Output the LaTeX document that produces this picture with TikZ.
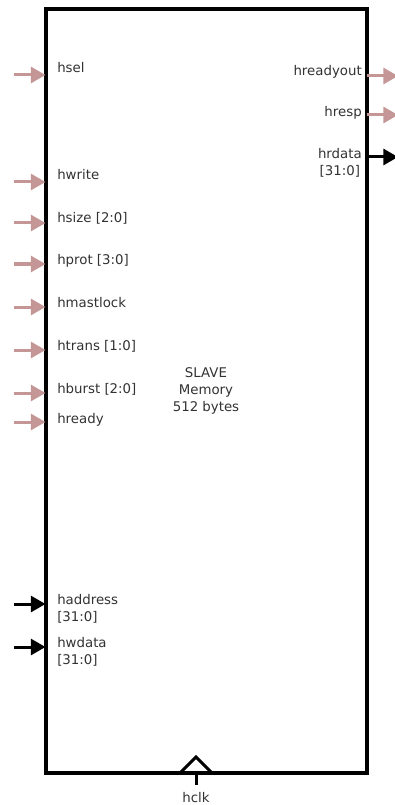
\documentclass[tikz,border=0pt]{standalone}
\usepackage{fontspec}
\setmainfont{DejaVu Sans}
\usetikzlibrary{arrows.meta, positioning}
\definecolor{sigpink}{RGB}{196,150,150}
\definecolor{labelgray}{RGB}{50,50,50}
\tikzset{
  x=0.75pt, y=-0.75pt, % one unit per pixel, y runs down
  sig/.style={line width=2.25pt, -{Triangle[length=11pt, width=12pt]}}, % every port arrow
  ctrl/.style={sig, draw=sigpink, fill=sigpink}, % control lines
  bus/.style={sig, draw=black, fill=black}, % data and address buses
  in label/.style={anchor=base west, align=left, inner sep=0pt},
  out label/.style={anchor=base east, align=center, inner sep=0pt},
  slave box/.style={draw, line width=3pt, minimum width=240.75pt,
    minimum height=573pt, inner sep=0pt, outer sep=0pt, align=center},
}
\begin{document}
\begin{tikzpicture}[font=\fontsize{10}{12.75}\selectfont, text=labelgray]
  \useasboundingbox (0,0) rectangle (394,805);
  \node[slave box] (slave) at (206,391) {SLAVE\\Memory\\512 bytes};

  % inputs on the left side
  \coordinate (hsel_in) at (14,75);
  \coordinate (hwrite_in) at (14,182);
  \coordinate (hsize_in) at (14,223);
  \coordinate (hprot_in) at (14,264);
  \coordinate (hmastlock_in) at (14,307);
  \coordinate (htrans_in) at (14,350);
  \coordinate (hburst_in) at (14,393);
  \coordinate (hready_in) at (14,422);
  \coordinate (haddr_in) at (14,604);
  \coordinate (hwdata_in) at (14,647);

  \draw[ctrl] (hsel_in) -- (hsel_in -| slave.west);
  \draw[ctrl] (hwrite_in) -- (hwrite_in -| slave.west);
  \draw[ctrl] (hsize_in) -- (hsize_in -| slave.west);
  \draw[ctrl] (hprot_in) -- (hprot_in -| slave.west);
  \draw[ctrl] (hmastlock_in) -- (hmastlock_in -| slave.west);
  \draw[ctrl] (htrans_in) -- (htrans_in -| slave.west);
  \draw[ctrl] (hburst_in) -- (hburst_in -| slave.west);
  \draw[ctrl] (hready_in) -- (hready_in -| slave.west);
  \draw[bus] (haddr_in) -- (haddr_in -| slave.west);
  \draw[bus] (hwdata_in) -- (hwdata_in -| slave.west);

  \node[in label] (hsel) at (57,73) {hsel};
  \node[in label] (hwrite) at (57,180) {hwrite};
  \node[in label] (hsize) at (57,223) {hsize [2:0]};
  \node[in label] (hprot) at (57,265) {hprot [3:0]};
  \node[in label] (hmastlock) at (57,307) {hmastlock};
  \node[in label] (htrans) at (57,350) {htrans [1:0]};
  \node[in label] (hburst) at (57,393) {hburst [2:0]};
  \node[in label] (hready) at (57,423) {hready};
  \node[in label] (haddress) at (57,621) {haddress\\{}[31:0]};
  \node[in label] (hwdata) at (57,664) {hwdata\\{}[31:0]};

  % outputs on the right side
  \coordinate (hreadyout_out) at (398,76);
  \coordinate (hresp_out) at (398,115);
  \coordinate (hrdata_out) at (398,157);

  \draw[ctrl] (hreadyout_out -| slave.east) -- (hreadyout_out);
  \draw[ctrl] (hresp_out -| slave.east) -- (hresp_out);
  \draw[bus] (hrdata_out -| slave.east) -- (hrdata_out);

  \node[out label] (hreadyout) at (362,76) {hreadyout};
  \node[out label] (hresp) at (362,117) {hresp};
  \node[out label] (hrdata) at (362,176) {hrdata\\{}[31:0]};

  % clock input at the bottom
  \coordinate (clk) at (196,773);
  \draw[line width=2.25pt] ([xshift=-12pt]clk) -- ([yshift=12pt]clk) -- ([xshift=12pt]clk);
  \draw[line width=2.25pt] (clk) -- ++(0,12) coordinate (clk_pin);
  \node[inner sep=0pt] (hclk) at (196,798) {hclk};
\end{tikzpicture}
\end{document}
